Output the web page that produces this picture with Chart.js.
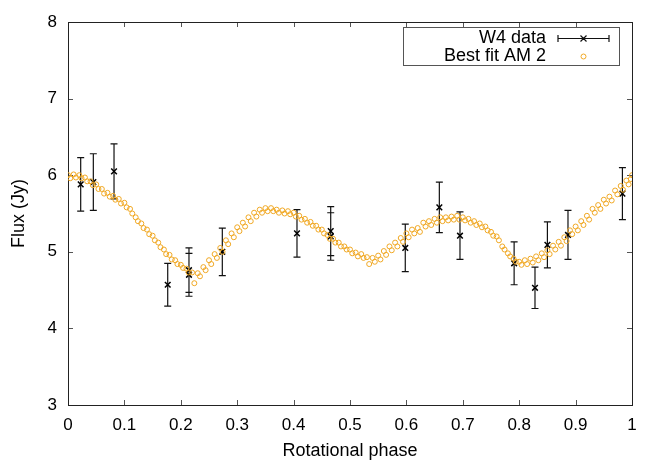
<!DOCTYPE html>
<html>
<head>
<meta charset="utf-8">
<title>W4 flux vs rotational phase</title>
<script src="https://cdn.jsdelivr.net/npm/chart.js@4.4.1/dist/chart.umd.min.js"></script>
<style>
html, body { margin: 0; padding: 0; background: #fff; }
#wrap { width: 664px; height: 465px; }
</style>
</head>
<body>
<div id="wrap"><canvas id="fluxChart" width="664" height="465"></canvas></div>
<script>
// ------------------ DONNEES ------------------
// W4 data : phase, flux (Jy), erreur
const w4Phase = [0.0225, 0.0449, 0.0816, 0.1768, 0.2145, 0.2145, 0.2736, 0.406, 0.4658,
                 0.4658, 0.598, 0.6584, 0.695, 0.791, 0.828, 0.85, 0.8865, 0.983];
const w4Flux  = [5.88, 5.91, 6.05, 4.57, 4.76, 4.70, 5.00, 5.24, 5.27,
                 5.20, 5.05, 5.58, 5.21, 4.85, 4.53, 5.09, 5.22, 5.76];
const w4Err   = [0.35, 0.37, 0.36, 0.28, 0.29, 0.28, 0.31, 0.31, 0.32,
                 0.31, 0.31, 0.33, 0.31, 0.28, 0.27, 0.30, 0.32, 0.34];

// Best fit AM 2 : deux bandes de points
const fitPhaseUpper = [
  0.00, 0.01, 0.02, 0.03, 0.04, 0.05, 0.06, 0.07, 0.08, 0.09,
  0.10, 0.11, 0.12, 0.13, 0.14, 0.15, 0.16, 0.17, 0.18, 0.19,
  0.20, 0.21, 0.22, 0.23, 0.24, 0.25, 0.26, 0.27, 0.28, 0.29,
  0.30, 0.31, 0.32, 0.33, 0.34, 0.35, 0.36, 0.37, 0.38, 0.39,
  0.40, 0.41, 0.42, 0.43, 0.44, 0.45, 0.46, 0.47, 0.48, 0.49,
  0.50, 0.51, 0.52, 0.53, 0.54, 0.55, 0.56, 0.57, 0.58, 0.59,
  0.60, 0.61, 0.62, 0.63, 0.64, 0.65, 0.66, 0.67, 0.68, 0.69,
  0.70, 0.71, 0.72, 0.73, 0.74, 0.75, 0.76, 0.77, 0.78, 0.79,
  0.80, 0.81, 0.82, 0.83, 0.84, 0.85, 0.86, 0.87, 0.88, 0.89,
  0.90, 0.91, 0.92, 0.93, 0.94, 0.95, 0.96, 0.97, 0.98, 0.99,
  1.00
];
const fitUpper = [
  6.00, 6.01, 6.00, 5.97, 5.92, 5.88, 5.82, 5.77, 5.73, 5.69,
  5.64, 5.56, 5.45, 5.37, 5.29, 5.21, 5.12, 5.03, 4.96, 4.89,
  4.83, 4.78, 4.73, 4.72, 4.80, 4.89, 4.97, 5.05, 5.15, 5.24,
  5.32, 5.38, 5.45, 5.51, 5.55, 5.57, 5.57, 5.55, 5.54, 5.53,
  5.51, 5.47, 5.43, 5.39, 5.34, 5.29, 5.22, 5.17, 5.12, 5.07,
  5.03, 4.99, 4.97, 4.93, 4.92, 4.95, 5.01, 5.07, 5.12, 5.18,
  5.24, 5.29, 5.31, 5.38, 5.40, 5.43, 5.45, 5.45, 5.46, 5.47,
  5.45, 5.43, 5.40, 5.37, 5.33, 5.26, 5.20, 5.07, 4.98, 4.91,
  4.87, 4.89, 4.91, 4.94, 4.98, 5.02, 5.08, 5.13, 5.19, 5.28,
  5.33, 5.40, 5.47, 5.56, 5.61, 5.68, 5.72, 5.80, 5.86, 5.93,
  6.00
];
const fitPhaseLower = [
  0.004, 0.014, 0.024, 0.034, 0.044, 0.054, 0.064, 0.074, 0.084, 0.094,
  0.104, 0.114, 0.124, 0.134, 0.144, 0.154, 0.164, 0.174, 0.184, 0.194,
  0.204, 0.214, 0.224, 0.234, 0.244, 0.254, 0.264, 0.274, 0.284, 0.294,
  0.304, 0.314, 0.324, 0.334, 0.344, 0.354, 0.364, 0.374, 0.384, 0.394,
  0.404, 0.414, 0.424, 0.434, 0.444, 0.454, 0.464, 0.474, 0.484, 0.494,
  0.504, 0.514, 0.524, 0.534, 0.544, 0.554, 0.564, 0.574, 0.584, 0.594,
  0.604, 0.614, 0.624, 0.634, 0.644, 0.654, 0.664, 0.674, 0.684, 0.694,
  0.704, 0.714, 0.724, 0.734, 0.744, 0.754, 0.764, 0.774, 0.784, 0.794,
  0.804, 0.814, 0.824, 0.834, 0.844, 0.854, 0.864, 0.874, 0.884, 0.894,
  0.904, 0.914, 0.924, 0.934, 0.944, 0.954, 0.964, 0.974, 0.984, 0.994,
  0.998
];
const fitLower = [
  5.96, 5.97, 5.96, 5.92, 5.87, 5.82, 5.76, 5.72, 5.68, 5.63,
  5.58, 5.50, 5.40, 5.31, 5.23, 5.15, 5.06, 4.97, 4.90, 4.84,
  4.79, 4.73, 4.59, 4.68, 4.76, 4.84, 4.92, 5.00, 5.10, 5.19,
  5.27, 5.33, 5.40, 5.46, 5.51, 5.53, 5.53, 5.51, 5.50, 5.49,
  5.46, 5.42, 5.38, 5.34, 5.29, 5.24, 5.17, 5.12, 5.07, 5.03,
  4.98, 4.94, 4.92, 4.84, 4.87, 4.90, 4.96, 5.02, 5.07, 5.13,
  5.19, 5.24, 5.26, 5.33, 5.35, 5.38, 5.40, 5.41, 5.42, 5.42,
  5.41, 5.38, 5.35, 5.32, 5.28, 5.21, 5.15, 5.03, 4.94, 4.87,
  4.83, 4.84, 4.86, 4.89, 4.93, 4.97, 5.03, 5.08, 5.14, 5.23,
  5.28, 5.35, 5.42, 5.51, 5.56, 5.63, 5.67, 5.75, 5.81, 5.88,
  5.95
];

const xTicks = [0, 0.1, 0.2, 0.3, 0.4, 0.5, 0.6, 0.7, 0.8, 0.9, 1];
const yTicks = [3, 4, 5, 6, 7, 8];

const FONT = "'Liberation Sans', Arial, Helvetica, sans-serif";
const ORANGE = 'rgb(240,168,36)';

// ------------------ PLUGINS ------------------
// Cadre + graduations vers l'intérieur (style gnuplot)
const framePlugin = {
    id: 'frame',
    beforeDatasetsDraw(chart) {
        const { ctx, chartArea: a, scales: { x, y } } = chart;
        ctx.save();
        ctx.strokeStyle = '#555';
        ctx.lineWidth = 1;
        ctx.beginPath();
        xTicks.forEach(v => {
            const px = Math.round(x.getPixelForValue(v)) + 0.5;
            ctx.moveTo(px, a.bottom); ctx.lineTo(px, a.bottom - 5);
            ctx.moveTo(px, a.top); ctx.lineTo(px, a.top + 5);
        });
        yTicks.forEach(v => {
            const py = Math.round(y.getPixelForValue(v)) + 0.5;
            ctx.moveTo(a.left, py); ctx.lineTo(a.left + 5, py);
            ctx.moveTo(a.right, py); ctx.lineTo(a.right - 5, py);
        });
        ctx.stroke();
        ctx.strokeStyle = '#222';
        ctx.strokeRect(Math.round(a.left) + 0.5, Math.round(a.top) + 0.5,
                       Math.round(a.right - a.left), Math.round(a.bottom - a.top));
        ctx.restore();
    }
};

// Barres d'erreur des points W4
const errorBarPlugin = {
    id: 'errorBars',
    beforeDatasetsDraw(chart) {
        const { ctx, scales: { x, y } } = chart;
        ctx.save();
        ctx.strokeStyle = '#111';
        ctx.lineWidth = 1.2;
        ctx.beginPath();
        w4Phase.forEach((p, i) => {
            const px = x.getPixelForValue(p);
            const yTop = y.getPixelForValue(w4Flux[i] + w4Err[i]);
            const yBot = y.getPixelForValue(w4Flux[i] - w4Err[i]);
            ctx.moveTo(px, yTop); ctx.lineTo(px, yBot);
            ctx.moveTo(px - 3.5, yTop); ctx.lineTo(px + 3.5, yTop);
            ctx.moveTo(px - 3.5, yBot); ctx.lineTo(px + 3.5, yBot);
        });
        ctx.stroke();
        ctx.restore();
    }
};

// Légende encadrée en haut à droite
const keyPlugin = {
    id: 'keyBox',
    afterDraw(chart) {
        const { ctx } = chart;
        ctx.save();
        ctx.strokeStyle = '#555';
        ctx.lineWidth = 1;
        ctx.strokeRect(403.5, 27.5, 216, 38);

        ctx.fillStyle = '#000';
        ctx.font = '18px ' + FONT;
        ctx.textAlign = 'right';
        ctx.textBaseline = 'middle';
        ctx.fillText('W4 data', 546, 38);
        ctx.fillText('Best fit AM 2', 546, 56);

        // échantillon barre d'erreur
        ctx.strokeStyle = '#111';
        ctx.lineWidth = 1.2;
        ctx.beginPath();
        ctx.moveTo(558, 38.5); ctx.lineTo(609, 38.5);
        ctx.moveTo(558, 35); ctx.lineTo(558, 42);
        ctx.moveTo(609, 35); ctx.lineTo(609, 42);
        ctx.moveTo(580.5, 35.5); ctx.lineTo(586.5, 41.5);
        ctx.moveTo(586.5, 35.5); ctx.lineTo(580.5, 41.5);
        ctx.stroke();

        // échantillon cercle
        ctx.strokeStyle = ORANGE;
        ctx.lineWidth = 1;
        ctx.beginPath();
        ctx.arc(583.5, 56.5, 2.5, 0, Math.PI * 2);
        ctx.stroke();
        ctx.restore();
    }
};

// ------------------ GRAPHIQUE ------------------
const w4Points = w4Phase.map((p, i) => ({ x: p, y: w4Flux[i] }));
const fitPoints = fitPhaseUpper.map((p, i) => ({ x: p, y: fitUpper[i] }))
    .concat(fitPhaseLower.map((p, i) => ({ x: p, y: fitLower[i] })));

const ctx = document.getElementById('fluxChart').getContext('2d');
new Chart(ctx, {
    type: 'scatter',
    data: {
        datasets: [{
            label: 'W4 data',
            data: w4Points,
            order: 2,
            pointStyle: 'crossRot',
            pointRadius: 4,
            borderColor: '#000',
            borderWidth: 1.5
        }, {
            label: 'Best fit AM 2',
            data: fitPoints,
            order: 1,
            pointStyle: 'circle',
            pointRadius: 2.5,
            borderColor: ORANGE,
            backgroundColor: 'rgba(0,0,0,0)',
            borderWidth: 1
        }]
    },
    options: {
        responsive: false,
        animation: false,
        layout: { padding: { top: 22, right: 32, left: 0, bottom: 0 } },
        scales: {
            x: {
                type: 'linear',
                min: 0,
                max: 1,
                afterFit: s => { s.height = 60; },
                afterBuildTicks: s => { s.ticks = xTicks.map(v => ({ value: v })); },
                grid: { display: false, drawTicks: false },
                border: { display: false },
                ticks: {
                    padding: 10,
                    color: '#000',
                    font: { family: FONT, size: 17 },
                    callback: v => String(Number(v.toFixed(1)))
                },
                title: {
                    display: true,
                    text: 'Rotational phase',
                    color: '#000',
                    font: { family: FONT, size: 18 },
                    padding: { top: 0, bottom: 3 }
                }
            },
            y: {
                type: 'linear',
                min: 3,
                max: 8,
                afterFit: s => { s.width = 68; },
                afterBuildTicks: s => { s.ticks = yTicks.map(v => ({ value: v })); },
                grid: { display: false, drawTicks: false },
                border: { display: false },
                ticks: {
                    padding: 11,
                    color: '#000',
                    font: { family: FONT, size: 17 }
                },
                title: {
                    display: true,
                    text: 'Flux (Jy)',
                    color: '#000',
                    font: { family: FONT, size: 18 },
                    padding: { top: 8, bottom: 0 }
                }
            }
        },
        plugins: {
            legend: { display: false },
            tooltip: { enabled: false }
        }
    },
    plugins: [framePlugin, errorBarPlugin, keyPlugin]
});
</script>
</body>
</html>
